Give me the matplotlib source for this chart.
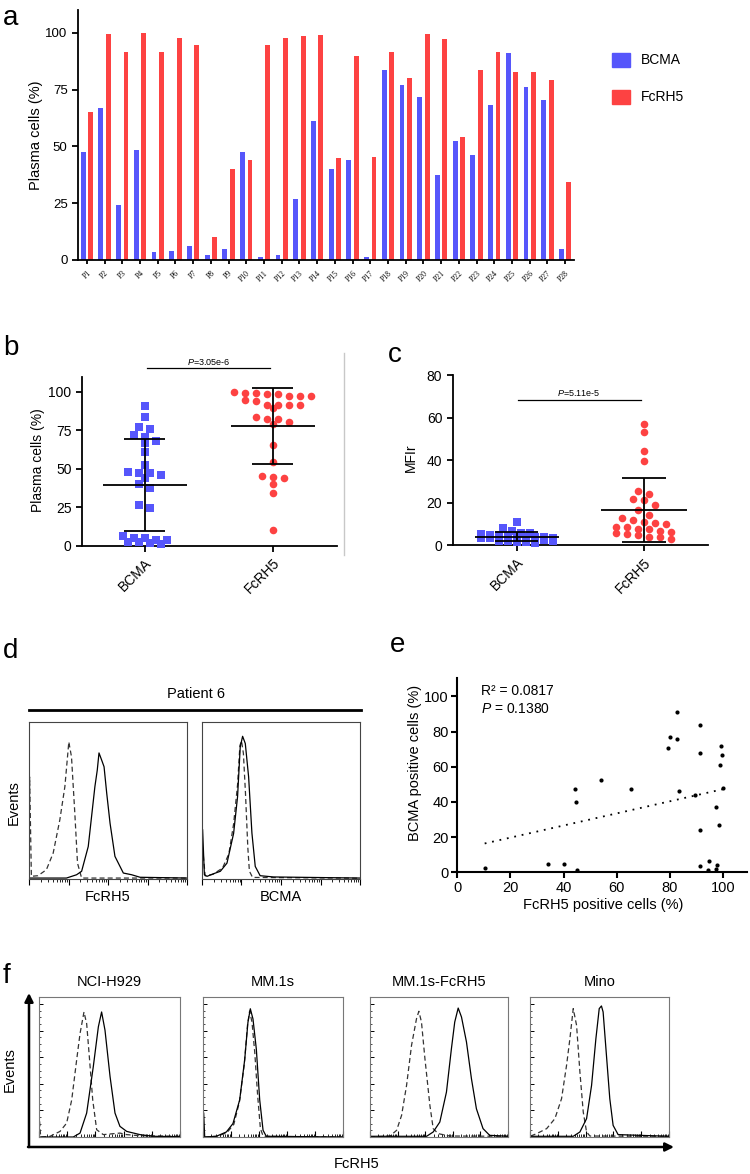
import numpy as np
import matplotlib
matplotlib.use("Agg")
import matplotlib.pyplot as plt
from matplotlib.patches import Rectangle, FancyArrowPatch
from matplotlib.lines import Line2D

plt.rcParams['font.family'] = ['Liberation Sans', 'DejaVu Sans']
plt.rcParams['mathtext.fontset'] = 'custom'
plt.rcParams['mathtext.rm'] = 'Liberation Sans'
plt.rcParams['mathtext.it'] = 'Liberation Sans:italic'

# ---- data ----
patients = ["P%d" % i for i in range(1, 29)]
bcma_pct = [47.3, 66.7, 24.2, 48.2, 3.7, 4.0, 6.3, 2.2, 5.0, 47.3, 1.2, 2.1, 26.7, 61.1,
            39.9, 43.9, 1.5, 83.6, 77.1, 71.8, 37.4, 52.4, 46.0, 68.1, 90.9, 75.9, 70.6, 5.0]
fcrh5_pct = [65.2, 99.6, 91.5, 99.9, 91.5, 97.7, 94.7, 10.3, 40.2, 44.2, 94.4, 97.5, 98.4, 99.0,
             44.8, 89.6, 45.1, 91.5, 80.2, 99.4, 97.2, 54.2, 83.4, 91.3, 82.5, 82.7, 79.1, 34.2]
bcma_mfir = [10.8, 7.8, 6.5, 5.8, 5.5, 5.0, 4.8, 4.6, 4.4, 4.2, 4.0, 3.9, 3.7, 3.5,
             3.4, 3.2, 3.0, 2.9, 2.7, 2.5, 2.4, 2.2, 2.0, 1.9, 1.7, 1.5, 1.3, 1.1]
fcrh5_mfir = [57.2, 53.1, 44.5, 39.6, 25.5, 24.2, 21.7, 21.1, 18.9, 16.7, 14.0, 12.7, 11.8, 10.8,
              10.4, 10.1, 8.5, 8.3, 7.4, 7.4, 6.1, 5.5, 5.2, 6.4, 4.6, 3.8, 3.6, 2.7]
groups = ["BCMA", "FcRH5"]
p_pct = "3.05e-6"
p_mfir = "5.11e-5"
r2_text = "0.0817"
p_corr = "0.1380"

# flow histograms, read as (x, y) fractions of each box; ctrl = dashed, stain = solid
d_fcrh5_ctrl_x = [0.0, 0.004, 0.015, 0.057, 0.11, 0.153, 0.195, 0.227, 0.252, 0.269, 0.29, 0.307, 0.333, 1.0]
d_fcrh5_ctrl_y = [0.0, 0.65, 0.017, 0.021, 0.059, 0.165, 0.376, 0.588, 0.873, 0.778, 0.419, 0.101, 0.006, 0.006]
d_fcrh5_stain_x = [0.0, 0.237, 0.301, 0.333, 0.375, 0.417, 0.432, 0.443, 0.46, 0.475, 0.492, 0.513, 0.544, 0.597, 0.65, 0.703, 1.0]
d_fcrh5_stain_y = [0.006, 0.006, 0.027, 0.049, 0.207, 0.588, 0.693, 0.803, 0.757, 0.715, 0.545, 0.355, 0.144, 0.038, 0.027, 0.011, 0.006]
d_bcma_ctrl_x = [0.004, 0.02, 0.07, 0.13, 0.17, 0.2, 0.225, 0.24, 0.25, 0.262, 0.275, 0.29, 0.3, 0.32, 1.0]
d_bcma_ctrl_y = [0.2, 0.02, 0.03, 0.07, 0.16, 0.35, 0.6, 0.85, 0.88, 0.8, 0.55, 0.2, 0.05, 0.01, 0.005]
d_bcma_stain_x = [0.004, 0.015, 0.032, 0.074, 0.116, 0.158, 0.2, 0.225, 0.242, 0.257, 0.274, 0.295, 0.316, 0.337, 0.368, 0.453, 1.0]
d_bcma_stain_y = [0.313, 0.027, 0.017, 0.034, 0.049, 0.101, 0.29, 0.523, 0.841, 0.909, 0.863, 0.651, 0.292, 0.08, 0.021, 0.013, 0.006]

cell_lines = ["NCI-H929", "MM.1s", "MM.1s-FcRH5", "Mino"]
f_ctrl_x = [
    [0.0, 0.012, 0.078, 0.149, 0.196, 0.232, 0.267, 0.291, 0.319, 0.338, 0.357, 0.381, 0.409, 0.456, 0.574, 0.622, 0.716, 1.0],
    [0.012, 0.1, 0.17, 0.22, 0.26, 0.295, 0.318, 0.333, 0.35, 0.37, 0.39, 0.41, 0.43, 1.0],
    [0.0, 0.145, 0.193, 0.229, 0.265, 0.301, 0.337, 0.354, 0.373, 0.398, 0.434, 0.458, 0.494, 0.578, 1.0],
    [0.005, 0.048, 0.12, 0.179, 0.227, 0.263, 0.287, 0.311, 0.335, 0.359, 0.383, 0.407, 0.431, 1.0],
]
f_ctrl_y = [
    [0.17, 0.0, 0.005, 0.04, 0.099, 0.265, 0.55, 0.739, 0.893, 0.81, 0.573, 0.265, 0.052, 0.017, 0.028, 0.017, 0.009, 0.005],
    [0.0, 0.005, 0.03, 0.09, 0.25, 0.52, 0.8, 0.9, 0.82, 0.6, 0.3, 0.06, 0.005, 0.0],
    [0.0, 0.007, 0.048, 0.155, 0.369, 0.655, 0.845, 0.898, 0.821, 0.56, 0.226, 0.06, 0.024, 0.007, 0.005],
    [0.007, 0.024, 0.06, 0.131, 0.274, 0.512, 0.702, 0.917, 0.798, 0.464, 0.179, 0.036, 0.007, 0.005],
]
f_stain_x = [
    [0.0, 0.243, 0.291, 0.338, 0.385, 0.421, 0.444, 0.468, 0.504, 0.539, 0.574, 0.622, 0.716, 0.811, 1.0],
    [0.005, 0.012, 0.095, 0.167, 0.214, 0.262, 0.298, 0.321, 0.338, 0.357, 0.381, 0.405, 0.429, 0.452, 1.0],
    [0.0, 0.41, 0.458, 0.506, 0.554, 0.59, 0.614, 0.639, 0.663, 0.699, 0.735, 0.771, 0.819, 0.867, 1.0],
    [0.0, 0.311, 0.359, 0.407, 0.443, 0.474, 0.498, 0.514, 0.526, 0.55, 0.574, 0.598, 0.634, 1.0],
]
f_stain_y = [
    [0.0, 0.0, 0.028, 0.171, 0.502, 0.787, 0.893, 0.763, 0.431, 0.171, 0.076, 0.04, 0.017, 0.005, 0.002],
    [0.17, 0.0, 0.005, 0.036, 0.096, 0.265, 0.554, 0.819, 0.916, 0.843, 0.627, 0.265, 0.048, 0.005, 0.0],
    [0.005, 0.005, 0.036, 0.107, 0.321, 0.631, 0.821, 0.921, 0.857, 0.679, 0.417, 0.202, 0.06, 0.012, 0.005],
    [0.005, 0.005, 0.036, 0.131, 0.369, 0.702, 0.917, 0.936, 0.893, 0.583, 0.274, 0.083, 0.017, 0.005],
]

BLUE = "#5656fb"
RED = "#fd4242"

W, H = 750, 1174
fig = plt.figure(figsize=(W / 100, H / 100), dpi=100)


def px_ax(x0, y0, x1, y1):
    return fig.add_axes([x0 / W, 1 - y1 / H, (x1 - x0) / W, (y1 - y0) / H])


def ftext(x, y, s, **kw):
    return fig.text(x / W, 1 - y / H, s, **kw)


def fline(xs, ys, **kw):
    fig.add_artist(Line2D([x / W for x in xs], [1 - y / H for y in ys], transform=fig.transFigure, **kw))


def simple_axes(ax, lw=1.3):
    for s in ["top", "right"]:
        ax.spines[s].set_visible(False)
    for s in ["left", "bottom"]:
        ax.spines[s].set_linewidth(lw)
    ax.tick_params(width=lw, length=4)


def rows_layout(ax, xc, vals, bin_px, step_px, max_row):
    # prism-like scatter: values close in y share a row, spread sideways
    ys = ax.transData.transform([(xc, v) for v in vals])[:, 1]
    unit = ax.transData.transform((1, 0))[0] - ax.transData.transform((0, 0))[0]
    order = list(np.argsort(-ys))
    offs = np.zeros(len(vals))
    while order:
        top = ys[order[0]]
        row = [i for i in order if top - ys[i] < bin_px][:max_row]
        order = [i for i in order if i not in row]
        n = len(row)
        for j, i in enumerate(row):
            offs[i] = (j - (n - 1) / 2) * step_px
    return xc + offs / unit


def mean_sd(ax, xc, vals, half, cap):
    m, sd = np.mean(vals), np.std(vals, ddof=1)
    kw = dict(color="black", lw=1.3, zorder=5)
    ax.hlines(m, xc - half, xc + half, **kw)
    ax.hlines([m - sd, m + sd], xc - cap, xc + cap, **kw)
    ax.vlines(xc, m - sd, m + sd, **kw)


def log_ticks(ax, ndec=4, direction="out"):
    major = np.arange(ndec + 1) / ndec
    minor = [(d + np.log10(k)) / ndec for d in range(ndec) for k in range(2, 10)]
    ax.set_xticks(major)
    ax.set_xticks(minor, minor=True)
    ax.set_xticklabels([])
    ax.tick_params(axis="x", which="major", length=4, width=0.8, direction=direction)
    ax.tick_params(axis="x", which="minor", length=2, width=0.6, direction=direction)


# ---- panel a ----
ax = px_ax(78, 10, 574, 260)
x = np.arange(len(patients))
ax.bar(x - 0.21, bcma_pct, width=0.27, color=BLUE)
ax.bar(x + 0.21, fcrh5_pct, width=0.27, color=RED)
ax.set_xlim(-0.5, 27.5)
ax.set_ylim(0, 110)
ax.set_yticks([0, 25, 50, 75, 100])
simple_axes(ax)
ax.set_xticks(x)
ax.set_xticklabels(patients, rotation=45, ha="right", rotation_mode="anchor",
                   fontsize=5.5, family="Liberation Serif")
ax.tick_params(axis="x", length=3)
ax.tick_params(axis="y", labelsize=9.5)
ftext(36, 135, "Plasma cells (%)", rotation=90, ha="center", va="center", fontsize=10.5)
for yy, lab, col in [(60, "BCMA", BLUE), (97, "FcRH5", RED)]:
    fig.add_artist(Rectangle((612 / W, 1 - (yy + 7) / H), 18 / W, 14 / H, color=col, transform=fig.transFigure))
    ftext(641, yy, lab, ha="left", va="center", fontsize=10)
ftext(3, 25, "a", fontsize=20, va="baseline")

# ---- panel b ----
ax = px_ax(82, 376.6, 337, 545.7)
ax.set_xlim(-0.49, 1.5)
ax.set_ylim(0, 110)
simple_axes(ax)
ax.set_yticks([0, 25, 50, 75, 100])
ax.set_xticks([0, 1])
ax.set_xticklabels(groups, rotation=45, ha="right", rotation_mode="anchor", fontsize=10.5)
ax.tick_params(labelsize=10)
ax.scatter(rows_layout(ax, 0, bcma_pct, 6, 11, 9), bcma_pct, marker="s", s=26, color=BLUE, lw=0, clip_on=False, zorder=3)
ax.scatter(rows_layout(ax, 1, fcrh5_pct, 6, 11, 8), fcrh5_pct, marker="o", s=30, color=RED, lw=0, clip_on=False, zorder=3)
mean_sd(ax, 0, bcma_pct, 0.33, 0.16)
mean_sd(ax, 1, fcrh5_pct, 0.33, 0.16)
ax.plot([0.02, 0.98], [115.6, 115.6], color="black", lw=0.9, clip_on=False)
ftext(209, 362, r"$\it{P}$=" + p_pct, ha="center", va="center", fontsize=6.5)
ftext(38, 460, "Plasma cells (%)", rotation=90, ha="center", va="center", fontsize=10)
fline([344, 344], [353, 555], color="#c8c8c8", lw=1)
ftext(3, 355, "b", fontsize=20, va="baseline")

# ---- panel c ----
ax = px_ax(452.7, 375.3, 708, 545)
ax.set_xlim(-0.503, 1.503)
ax.set_ylim(0, 80)
simple_axes(ax)
ax.set_yticks([0, 20, 40, 60, 80])
ax.set_xticks([0, 1])
ax.set_xticklabels(groups, rotation=45, ha="right", rotation_mode="anchor", fontsize=10.5)
ax.tick_params(labelsize=10)
ax.scatter(rows_layout(ax, 0, bcma_mfir, 5, 9, 9), bcma_mfir, marker="s", s=26, color=BLUE, lw=0, clip_on=False, zorder=3)
ax.scatter(rows_layout(ax, 1, fcrh5_mfir, 6, 11, 8), fcrh5_mfir, marker="o", s=30, color=RED, lw=0, clip_on=False, zorder=3)
mean_sd(ax, 0, bcma_mfir, 0.33, 0.17)
mean_sd(ax, 1, fcrh5_mfir, 0.34, 0.17)
ax.plot([0.01, 0.98], [68.4, 68.4], color="black", lw=0.9, clip_on=False)
ftext(579, 393, r"$\it{P}$=" + p_mfir, ha="center", va="center", fontsize=6.5)
ftext(411, 458, "MFIr", rotation=90, ha="center", va="center", fontsize=10)
ftext(388, 362, "c", fontsize=20, va="baseline")

# ---- panel d ----
ftext(3, 658, "d", fontsize=20, va="baseline")
ftext(196, 694, "Patient 6", ha="center", va="center", fontsize=10.5)
fline([29, 361], [710, 710], color="black", lw=2)
ftext(14, 803, "Events", rotation=90, ha="center", va="center", fontsize=10.5)
d_boxes = [(29, 187, "FcRH5", d_fcrh5_ctrl_x, d_fcrh5_ctrl_y, d_fcrh5_stain_x, d_fcrh5_stain_y),
           (202, 360, "BCMA", d_bcma_ctrl_x, d_bcma_ctrl_y, d_bcma_stain_x, d_bcma_stain_y)]
for x0, x1, lab, cx, cy, sx, sy in d_boxes:
    ax = px_ax(x0, 722, x1, 879)
    ax.plot(cx, cy, color="#333333", lw=0.9, ls=(0, (4, 2.5)))
    ax.plot(sx, sy, color="black", lw=0.9)
    ax.set_xlim(0, 1)
    ax.set_ylim(0, 1)
    ax.set_yticks([])
    log_ticks(ax, 4, "out")
    for s in ax.spines.values():
        s.set_linewidth(0.8)
        s.set_color("#444444")
    ftext((x0 + x1) / 2, 897, lab, ha="center", va="center", fontsize=10.5)

# ---- panel e ----
ax = px_ax(457.3, 678, 747, 872.3)
ax.set_xlim(0, 109)
ax.set_ylim(0, 110.5)
simple_axes(ax, 1.5)
ax.set_xticks(np.arange(0, 101, 20))
ax.set_yticks(np.arange(0, 101, 20))
ax.tick_params(labelsize=10.5, pad=2)
ax.scatter(fcrh5_pct, bcma_pct, s=9, color="black", lw=0, zorder=3, clip_on=False)
k, b0 = np.polyfit(fcrh5_pct, bcma_pct, 1)
xl = np.array([min(fcrh5_pct), max(fcrh5_pct)])
ax.plot(xl, k * xl + b0, color="black", lw=1.3, ls=(0, (1, 3.2)))
ax.text(9, 103, "R\u00b2 = " + r2_text, fontsize=10, va="center")
ax.text(9, 93, r"$\it{P}$ = " + p_corr, fontsize=10, va="center")
ftext(415, 763, "BCMA positive cells (%)", rotation=90, ha="center", va="center", fontsize=10.5)
ftext(603, 905, "FcRH5 positive cells (%)", ha="center", va="center", fontsize=10.5)
ftext(390, 652, "e", fontsize=20, va="baseline")

# ---- panel f ----
ftext(3, 983, "f", fontsize=20, va="baseline")
f_boxes = [(39, 180), (203, 343), (370, 508), (530, 669)]
for i, (x0, x1) in enumerate(f_boxes):
    ax = px_ax(x0, 997, x1, 1137)
    ax.plot(f_ctrl_x[i], f_ctrl_y[i], color="#333333", lw=0.9, ls=(0, (4, 2.5)))
    ax.plot(f_stain_x[i], f_stain_y[i], color="black", lw=0.9)
    ax.set_xlim(0, 1)
    ax.set_ylim(0, 1)
    log_ticks(ax, 5, "in")
    ax.set_yticks(np.arange(0, 1.0, 0.19))
    ax.set_yticks(np.arange(0, 0.96, 0.0475), minor=True)
    ax.set_yticklabels([])
    ax.tick_params(axis="y", which="major", length=3, width=0.7, direction="in")
    ax.tick_params(axis="y", which="minor", length=1.5, width=0.5, direction="in")
    for s in ax.spines.values():
        s.set_linewidth(0.8)
        s.set_color("#777777")
    ftext((x0 + x1) / 2, 982, cell_lines[i], ha="center", va="center", fontsize=10.5)
fig.add_artist(FancyArrowPatch((29 / W, 1 - 1147 / H), (29 / W, 1 - 993 / H), transform=fig.transFigure,
                               arrowstyle="-|>,head_length=5,head_width=2.5", lw=1.8, color="black", shrinkA=0, shrinkB=0))
fig.add_artist(FancyArrowPatch((28 / W, 1 - 1147 / H), (674 / W, 1 - 1147 / H), transform=fig.transFigure,
                               arrowstyle="-|>,head_length=5,head_width=2.5", lw=1.8, color="black", shrinkA=0, shrinkB=0))
ftext(10, 1070, "Events", rotation=90, ha="center", va="center", fontsize=10.5)
ftext(357, 1164, "FcRH5", ha="center", va="center", fontsize=10.5)

fig.savefig("out.png", dpi=100)
